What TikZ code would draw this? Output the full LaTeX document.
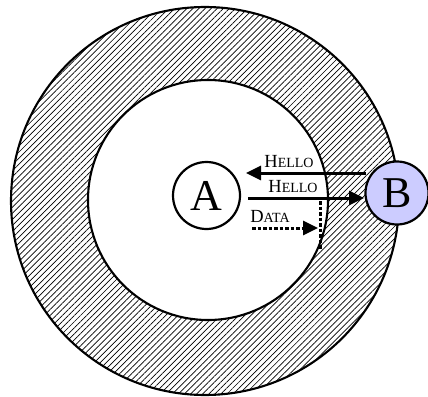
\documentclass[tikz,border=0pt]{standalone}
\usepackage{fontspec}
\setmainfont{Liberation Serif}
\usetikzlibrary{patterns.meta,arrows.meta}
\newcommand{\fsc}[2]{{\fontsize{18.5}{18}\selectfont #1}{\fontsize{14}{14}\selectfont #2}}
\tikzset{
  ring/.style={line width=2.1pt},
  peer/.style={circle,draw,line width=2.2pt,inner sep=0pt,font=\fontsize{44}{44}\selectfont},
  msg/.style={line width=3pt,-{Triangle[length=15pt,width=14pt]}},
  dmsg/.style={line width=3pt,dash pattern=on 3.5pt off 2pt,-{Triangle[length=15pt,width=14pt]}},
  sep/.style={line width=3pt,dash pattern=on 3.5pt off 2pt},
  lbl/.style={inner sep=0pt}
}
\begin{document}
\begin{tikzpicture}[x=1pt,y=-1pt]
\useasboundingbox (0,0) rectangle (428,396);
\fill[white] (0,0) rectangle (428,396);
\path[even odd rule,pattern={Lines[angle=45,distance=4.3pt,line width=0.7pt]}]
  (205,201) circle[radius=194] (208,200) circle[radius=120];
\draw[ring] (205,201) circle[radius=194];
\draw[ring] (208,200) circle[radius=120];
\node[peer,minimum size=67pt] (A) at (206.5,195.5) {A};
\node[peer,minimum size=63pt,fill={rgb,255:red,204;green,204;blue,255}] (B) at (397,193) {B};
\coordinate (h1s) at (366,173);
\coordinate (h1e) at (246,173);
\coordinate (h2s) at (248,198);
\coordinate (h2e) at (364,198);
\coordinate (ds) at (252,228);
\coordinate (de) at (318,228);
\coordinate (vs) at (320,201);
\coordinate (ve) at (320,249);
\draw[msg] (h1s) -- (h1e);
\draw[msg] (h2s) -- (h2e);
\draw[dmsg] (ds) -- (de);
\draw[sep] (vs) -- (ve);
\node[lbl] (l1) at (289,162) {\fsc{H}{ELLO}};
\node[lbl] (l2) at (293,186.5) {\fsc{H}{ELLO}};
\node[lbl] (l3) at (270,216.5) {\fsc{D}{ATA}};
\end{tikzpicture}
\end{document}
